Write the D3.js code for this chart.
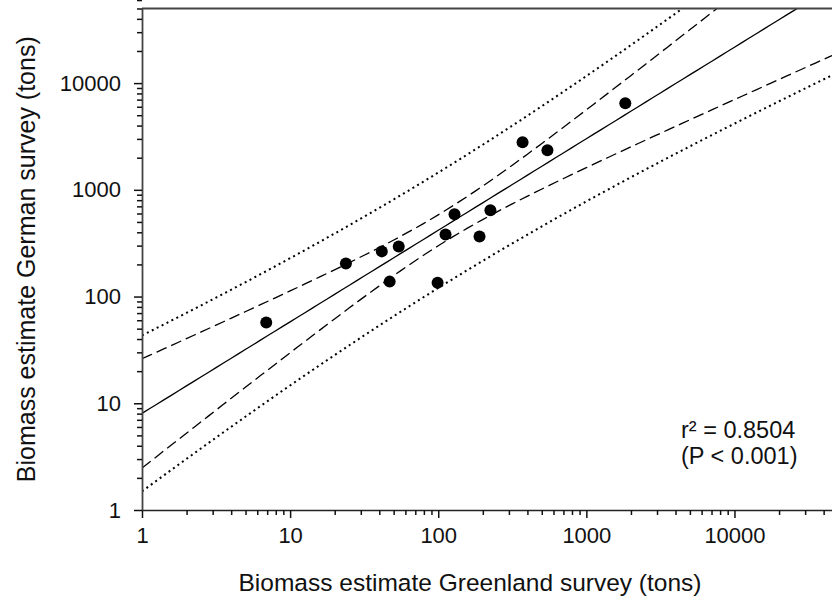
<!DOCTYPE html>
<html>
<head>
<meta charset="utf-8">
<script src="https://cdn.jsdelivr.net/npm/d3@7"></script>
<style>
  body { margin: 0; background: #fff; }
  svg { display: block; font-family: Arial, "Liberation Sans", sans-serif; }
</style>
</head>
<body>
<div id="chart"></div>
<script>
// -------------------- DATA --------------------
const greenland = [6.9, 23.8, 41.6, 54.1, 47.0, 128.8, 112, 225, 190, 99, 371, 546, 1832];
const german    = [57, 204, 265, 295, 138, 589, 382, 642, 366, 135, 2793, 2349, 6490];
const xTicks = [1, 10, 100, 1000, 10000];
const yTicks = [1, 10, 100, 1000, 10000];
const statsLines = ["r\u00B2 = 0.8504", "(P < 0.001)"];
const T_975_11 = 2.201; // t value, 95%, n-2 df

const W = 832, H = 606;
const margin = { top: 8.5, left: 142, bottom: 96 };
const plotW = 696, plotH = H - margin.top - margin.bottom;

const svg = d3.select("#chart").append("svg")
  .attr("width", W).attr("height", H);

const g = svg.append("g").attr("transform", `translate(${margin.left},${margin.top})`);

// -------------------- SCALES --------------------
const x = d3.scaleLog().domain([1, 50000]).range([0, plotW]);
const y = d3.scaleLog().domain([1, 50000]).range([plotH, 0]);

// -------------------- REGRESSION (log-log) --------------------
const lx = greenland.map(Math.log10), ly = german.map(Math.log10);
const n = lx.length;
const mx = d3.mean(lx), my = d3.mean(ly);
const sxx = d3.sum(lx, v => (v - mx) ** 2);
const sxy = d3.sum(lx.map((v, i) => (v - mx) * (ly[i] - my)));
const slope = sxy / sxx, icpt = my - slope * mx;
const sse = d3.sum(lx.map((v, i) => (ly[i] - (icpt + slope * v)) ** 2));
const s = Math.sqrt(sse / (n - 2));

const grid = d3.range(0, 4.7001, 0.05);
const band = (k, pred) => grid.map(t => {
  const se = s * Math.sqrt((pred ? 1 : 0) + 1 / n + (t - mx) ** 2 / sxx);
  return [10 ** t, 10 ** (icpt + slope * t + k * T_975_11 * se)];
});

svg.append("clipPath").attr("id", "plotClip")
  .append("rect").attr("width", plotW).attr("height", plotH);

const line = d3.line().x(d => x(d[0])).y(d => y(d[1]));
const lines = g.append("g").attr("clip-path", "url(#plotClip)")
  .attr("fill", "none").attr("stroke", "#000").attr("stroke-width", 1.3);

lines.append("path").attr("d", line(grid.map(t => [10 ** t, 10 ** (icpt + slope * t)])));
[-1, 1].forEach(k => {
  lines.append("path").attr("d", line(band(k, false))).attr("stroke-dasharray", "11,5");
  lines.append("path").attr("d", line(band(k, true)))
    .attr("stroke-width", 2).attr("stroke-dasharray", "2,3.5");
});

// -------------------- POINTS --------------------
g.selectAll("circle").data(greenland).join("circle")
  .attr("cx", d => x(d))
  .attr("cy", (d, i) => y(german[i]))
  .attr("r", 6)
  .attr("fill", "#000");

// -------------------- AXES --------------------
const minor = [];
for (let e = 0; e < 5; e++) for (let m = 2; m < 10; m++) minor.push(m * 10 ** e);

function logAxis(axisFn, scale, majors) {
  return sel => {
    sel.append("g").attr("class", "minor")
      .call(axisFn(scale).tickValues(minor).tickFormat(() => "").tickSize(5).tickSizeOuter(0));
    sel.append("g").attr("class", "major")
      .call(axisFn(scale).tickValues(majors).tickSize(8).tickSizeOuter(0).tickFormat(d3.format("d")));
    sel.select(".major .domain").remove();
    sel.selectAll(".tick line").attr("stroke", "#111").attr("stroke-width", 1.5);
    sel.selectAll(".major .tick text").attr("font-size", 22).attr("fill", "#111")
      .attr("font-family", "Arial, 'Liberation Sans', sans-serif");
  };
}

const xAxis = g.append("g").attr("transform", `translate(0,${plotH})`)
  .call(logAxis(d3.axisBottom, x, xTicks));
xAxis.select(".minor .domain").attr("stroke", "#222").attr("stroke-width", 1.5);
xAxis.selectAll(".major .tick text").attr("y", 17);

const yAxis = g.append("g").call(logAxis(d3.axisLeft, y, yTicks));
yAxis.select(".minor .domain").attr("stroke", "#444").attr("stroke-width", 1.8);
yAxis.selectAll(".major .tick text").attr("x", -21);

// top frame line
g.append("line").attr("x1", 0).attr("x2", plotW).attr("y1", 0).attr("y2", 0)
  .attr("stroke", "#444").attr("stroke-width", 1.8);

// -------------------- LABELS --------------------
svg.append("text")
  .attr("x", 470).attr("y", 591)
  .attr("text-anchor", "middle").attr("font-size", 24.5).attr("fill", "#111")
  .text("Biomass estimate Greenland survey (tons)");

svg.append("text")
  .attr("transform", `translate(35,${margin.top + plotH / 2}) rotate(-90)`)
  .attr("text-anchor", "middle").attr("font-size", 25).attr("fill", "#111")
  .text("Biomass estimate German survey (tons)");

svg.append("g").selectAll("text").data(statsLines).join("text")
  .attr("x", 681).attr("y", (d, i) => 438 + i * 26)
  .attr("font-size", 23.5).attr("fill", "#111")
  .text(d => d);
</script>
</body>
</html>
